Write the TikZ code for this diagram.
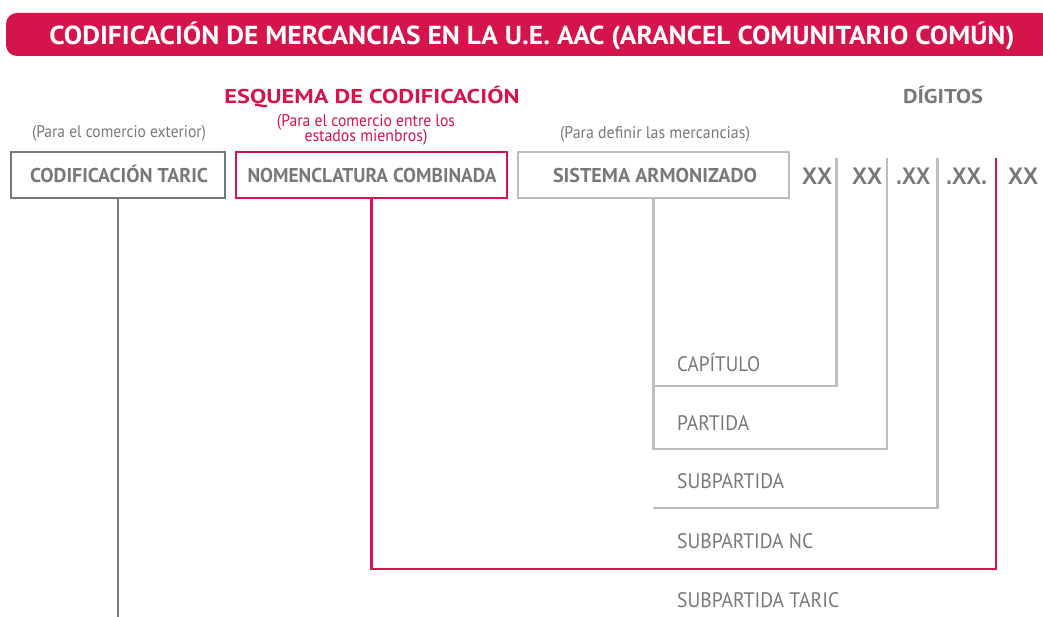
\documentclass[tikz,border=0pt]{standalone}
\usepackage{fontspec}
\setmainfont{PT Sans}
\newfontfamily\digfont{Liberation Sans}
\usepackage{graphicx}
\definecolor{cred}{HTML}{D4144A}
\definecolor{cdark}{HTML}{787878}
\definecolor{clight}{HTML}{BDBDBD}
\definecolor{csep}{HTML}{B4B4B4}
\newcommand{\fw}[2]{\resizebox{#1pt}{\height}{#2}}
\tikzset{
  txt/.style={inner sep=0pt, anchor=base},
  dtxt/.style={inner sep=0pt, anchor=base west, text=cdark},
  ltxt/.style={inner sep=0pt, anchor=base west, text=cdark},
  boxline/.style={line width=2.4pt},
  conn/.style={line width=2.2pt},
}
\begin{document}
\begin{tikzpicture}[x=1pt,y=-1pt]
\useasboundingbox (0,0) rectangle (1043,617);
% header
\fill[cred, rounded corners=11pt] (6,13) rectangle (1052,56);
\node[txt, text=white] (title) at (532,45) {\fw{965}{\fontsize{26}{26}\selectfont\bfseries CODIFICACIÓN DE MERCANCIAS EN LA U.E. AAC (ARANCEL COMUNITARIO COMÚN)}};
% headings
\node[txt, text=cred] (esq) at (372,104) {\fw{295}{\fontsize{20}{20}\selectfont\bfseries ESQUEMA DE CODIFICACIÓN}};
\node[txt, text=cdark] (dig) at (943,104) {\fw{80}{\fontsize{20}{20}\selectfont\bfseries DÍGITOS}};
% subtitles
\node[txt, text=cdark] (s1) at (119,138) {\fw{174}{\fontsize{17}{17}\selectfont (Para el comercio exterior)}};
\node[txt, text=cred] (s2a) at (366,127) {\fw{178}{\fontsize{17}{17}\selectfont (Para el comercio entre los}};
\node[txt, text=cred] (s2b) at (366,142) {\fw{123}{\fontsize{17}{17}\selectfont estados mienbros)}};
\node[txt, text=cdark] (s3) at (655,139) {\fw{190}{\fontsize{17}{17}\selectfont (Para definir las mercancias)}};
% boxes
\draw[boxline, cdark] (11,152) rectangle (225,198);
\draw[boxline, cred] (236,152) rectangle (507,198);
\draw[boxline, clight] (518,152) rectangle (789,198);
\coordinate (taric) at (118,198);
\coordinate (nc) at (371.5,198);
\coordinate (sa) at (653.5,198);
\node[txt, text=cdark] (t1) at (119,183) {\fw{178}{\fontsize{20}{20}\selectfont\bfseries CODIFICACIÓN TARIC}};
\node[txt, text=cdark] (t2) at (372,183) {\fw{249}{\fontsize{20}{20}\selectfont\bfseries NOMENCLATURA COMBINADA}};
\node[txt, text=cdark] (t3) at (655,183) {\fw{204}{\fontsize{20}{20}\selectfont\bfseries SISTEMA ARMONIZADO}};
% digits
\node[dtxt] (d1) at (802,185) {\fw{30}{\digfont\fontsize{24}{24}\selectfont\bfseries XX}};
\node[dtxt] (d2) at (852,185) {\fw{30}{\digfont\fontsize{24}{24}\selectfont\bfseries XX}};
\node[dtxt] (d3) at (896,185) {\fw{34}{\digfont\fontsize{24}{24}\selectfont\bfseries .XX}};
\node[dtxt] (d4) at (946,185) {\fw{41}{\digfont\fontsize{24}{24}\selectfont\bfseries .XX.}};
\node[dtxt] (d5) at (1008,185) {\fw{30}{\digfont\fontsize{24}{24}\selectfont\bfseries XX}};
% level labels
\node[ltxt] (cap) at (677,371) {\fw{83}{\fontsize{21}{21}\selectfont CAPÍTULO}};
\node[ltxt] (par) at (677,430) {\fw{72}{\fontsize{21}{21}\selectfont PARTIDA}};
\node[ltxt] (sub) at (677,488) {\fw{107}{\fontsize{21}{21}\selectfont SUBPARTIDA}};
\node[ltxt] (subnc) at (677,548) {\fw{136}{\fontsize{21}{21}\selectfont SUBPARTIDA NC}};
\node[ltxt] (subt) at (677,607) {\fw{162}{\fontsize{21}{21}\selectfont SUBPARTIDA TARIC}};
% connector coordinates
\coordinate (c1top) at (836.5,158);
\coordinate (c2top) at (887,158);
\coordinate (c3top) at (937.5,158);
\coordinate (c4top) at (996,158);
\coordinate (bottom) at (118,617);
% connectors
\draw[conn, cdark] (taric) -- (bottom);
\draw[conn, clight] (sa) -- (sa |- 0,449) -- (c2top |- 0,449) -- (c2top);
\draw[conn, clight] (sa |- 0,386) -- (c1top |- 0,386) -- (c1top);
\draw[conn, clight] (653,508) -- (c3top |- 0,508) -- (c3top);
\draw[conn, cred] (nc) -- (nc |- 0,569) -- (c4top |- 0,569) -- (c4top);
\end{tikzpicture}
\end{document}
